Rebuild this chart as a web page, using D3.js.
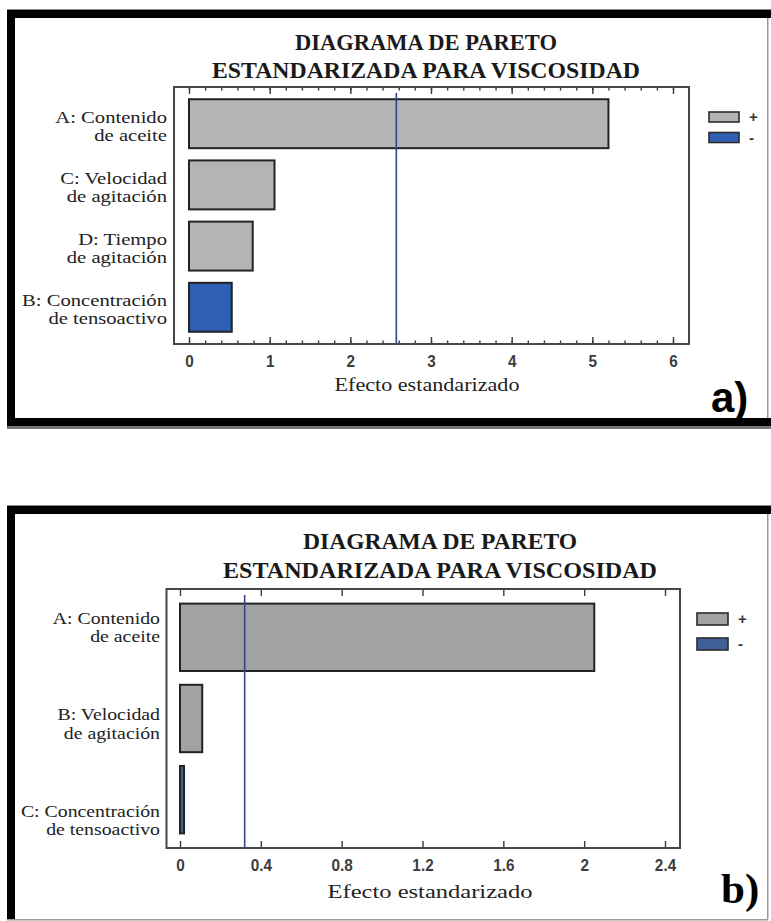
<!DOCTYPE html>
<html>
<head>
<meta charset="utf-8">
<script src="https://cdn.jsdelivr.net/npm/d3@7/dist/d3.min.js"></script>
<style>
  html, body { margin: 0; padding: 0; background: #fff; }
  svg { display: block; }
</style>
</head>
<body>
<div id="chart"></div>
<script>
/*** data ***/
const titleLines = ["DIAGRAMA DE PARETO", "ESTANDARIZADA PARA VISCOSIDAD"];
const axisTitle = "Efecto estandarizado";
const legendSigns = ["+", "-"];

// panel a
const labelsA = [["A: Contenido", "de aceite"], ["C: Velocidad", "de agitación"],
                 ["D: Tiempo", "de agitación"], ["B: Concentración", "de tensoactivo"]];
const valuesA = [5.2, 1.06, 0.79, 0.53];
const signsA = ["+", "+", "+", "-"];
const refA = 2.57;
const ticksA = [0, 1, 2, 3, 4, 5, 6];

// panel b
const labelsB = [["A: Contenido", "de aceite"], ["B: Velocidad", "de agitación"],
                 ["C: Concentración", "de tensoactivo"]];
const valuesB = [2.05, 0.11, 0.02];
const signsB = ["+", "+", "-"];
const refB = 0.32;
const ticksB = [0, 0.4, 0.8, 1.2, 1.6, 2, 2.4];

const W = 771, H = 921;
const svg = d3.select("#chart").append("svg")
    .attr("width", W).attr("height", H);
svg.append("rect").attr("width", W).attr("height", H).attr("fill", "#fff");

// squeeze / stretch a text to a width
function fitText(sel, k) {
    sel.each(function () {
        const w = this.getComputedTextLength();
        this.setAttribute("textLength", w * k);
        this.setAttribute("lengthAdjust", "spacingAndGlyphs");
    });
}

/*** frames ***/
function frame(top, bottom, thickBottom) {
    const f = svg.append("g");
    f.append("rect").attr("x", 7).attr("y", top - 1).attr("width", W).attr("height", 1).attr("fill", "#888");
    f.append("rect").attr("x", 7).attr("y", top).attr("width", W).attr("height", 8).attr("fill", "#000");
    f.append("rect").attr("x", 7).attr("y", top).attr("width", 8).attr("height", bottom - top).attr("fill", "#000");
    f.append("rect").attr("x", 767).attr("y", top + 8).attr("width", 1.5).attr("height", bottom - top - 8).attr("fill", "#999");
    if (thickBottom) {
        f.append("rect").attr("x", 7).attr("y", bottom - 8).attr("width", W).attr("height", 8).attr("fill", "#000");
        f.append("rect").attr("x", 7).attr("y", bottom).attr("width", W).attr("height", 3).attr("fill", "#777");
    } else {
        f.append("rect").attr("x", 7).attr("y", bottom).attr("width", 761).attr("height", 1.5).attr("fill", "#999");
    }
}
frame(10, 426, true);
frame(506, 919, false);

/*** pareto panel ***/
function drawPareto(o) {
    const g = svg.append("g");
    const box = o.box;
    const cats = o.labels.map(d => d[0]);

    const x = d3.scaleLinear().domain(o.domain).range([box.x0 + o.padL, box.x1 - o.padR]);
    const y = d3.scaleBand().domain(cats).range([box.y0, box.y1])
        .paddingInner(o.padIn).paddingOuter(o.padOut);
    const yLab = d3.scalePoint().domain(cats).range(o.labelRange);
    const color = d3.scaleOrdinal().domain(legendSigns).range(o.colors);

    // title
    g.selectAll(".title").data(titleLines).enter().append("text")
        .attr("class", "title")
        .attr("x", o.titleX).attr("y", (d, i) => o.titleY[i])
        .attr("text-anchor", "middle")
        .style("font-family", "'Liberation Serif', serif")
        .style("font-weight", "bold").style("font-size", "24px")
        .attr("fill", "#1a1a1a")
        .text(d => d)
        .attr("textLength", (d, i) => o.titleW[i])
        .attr("lengthAdjust", "spacingAndGlyphs");

    // bars
    g.selectAll(".bar").data(o.values).enter().append("rect")
        .attr("class", "bar")
        .attr("x", x(0))
        .attr("y", (d, i) => y(cats[i]))
        .attr("width", d => x(d) - x(0))
        .attr("height", y.bandwidth())
        .attr("fill", (d, i) => color(o.signs[i]))
        .attr("stroke", "#232323").attr("stroke-width", 2);

    // critical value line
    g.append("line")
        .attr("x1", x(o.ref)).attr("x2", x(o.ref))
        .attr("y1", box.y0 + 6).attr("y2", box.y1 - 1)
        .attr("stroke", "#34438a").attr("stroke-width", 1.6);

    // axes: ticks point inward on top and bottom
    const bottom = g.append("g").attr("transform", "translate(0," + box.y1 + ")")
        .call(d3.axisBottom(x).tickValues(o.ticks).tickSize(-7).tickPadding(11)
            .tickFormat(d3.format("~g")));
    g.append("g").attr("transform", "translate(0," + box.y0 + ")")
        .call(d3.axisTop(x).tickValues(o.ticks).tickSize(-7).tickFormat(""));
    if (o.minor) {
        g.append("g").attr("transform", "translate(0," + box.y1 + ")")
            .call(d3.axisBottom(x).tickValues(o.minor).tickSize(-3.5).tickFormat(""));
        g.append("g").attr("transform", "translate(0," + box.y0 + ")")
            .call(d3.axisTop(x).tickValues(o.minor).tickSize(-3.5).tickFormat(""));
    }
    g.selectAll(".domain").remove();
    g.selectAll(".tick line").attr("stroke", "#3a3a3a").attr("stroke-width", 1.4);
    bottom.selectAll(".tick text")
        .style("font-family", "'Liberation Sans', Arial, sans-serif")
        .style("font-weight", "bold").style("font-size", "17px")
        .attr("fill", "#3d3d3d")
        .call(fitText, 0.9);

    // plot box
    g.append("rect")
        .attr("x", box.x0).attr("y", box.y0)
        .attr("width", box.x1 - box.x0).attr("height", box.y1 - box.y0)
        .attr("fill", "none").attr("stroke", "#474747").attr("stroke-width", 2);

    // category labels (two lines)
    const lab = g.selectAll(".lab").data(o.labels).enter().append("g")
        .attr("class", "lab")
        .style("font-family", "'Liberation Serif', serif")
        .style("font-size", "16.5px")
        .attr("fill", "#222");
    lab.append("text")
        .attr("text-anchor", "end")
        .attr("x", o.labelX).attr("y", d => yLab(d[0]) - 2.5)
        .text(d => d[0]);
    lab.append("text")
        .attr("text-anchor", "end")
        .attr("x", o.labelX).attr("y", d => yLab(d[0]) + 16)
        .text(d => d[1]);
    lab.selectAll("text").call(fitText, o.labelK);

    // axis title
    g.append("text")
        .attr("x", o.axisX).attr("y", o.axisY)
        .attr("text-anchor", "middle")
        .style("font-family", "'Liberation Serif', serif")
        .style("font-size", "19px")
        .attr("fill", "#222")
        .text(axisTitle)
        .attr("textLength", o.axisW).attr("lengthAdjust", "spacingAndGlyphs");

    // legend
    const leg = g.selectAll(".leg").data(legendSigns).enter().append("g")
        .attr("class", "leg")
        .attr("transform", (d, i) => "translate(" + o.legX + "," + (o.legY + i * o.legStep) + ")");
    leg.append("rect")
        .attr("width", o.legW).attr("height", o.legH)
        .attr("fill", d => color(d))
        .attr("stroke", "#2b2b2b").attr("stroke-width", 1.6);
    leg.append("text")
        .attr("x", o.legW + 10).attr("y", o.legH / 2 + 5)
        .style("font-family", "'Liberation Sans', Arial, sans-serif")
        .style("font-weight", "bold").style("font-size", "15px")
        .attr("fill", "#333")
        .text(d => d);

    // panel letter
    g.append("text")
        .attr("x", o.letterX).attr("y", o.letterY)
        .style("font-family", o.letterFont)
        .style("font-weight", "bold").style("font-size", o.letterSize + "px")
        .attr("fill", "#000")
        .text(o.letter);
}

drawPareto({
    labels: labelsA, values: valuesA, signs: signsA, ref: refA,
    ticks: ticksA, minor: d3.range(0, 6.001, 0.2), domain: [0, 6],
    box: {x0: 174, x1: 689, y0: 87, y1: 344}, padL: 15, padR: 16,
    padIn: 0.2, padOut: 0.2,
    labelRange: [125, 308], labelX: 167, labelK: 1.25,
    colors: ["#b4b4b4", "#2f5fb3"],
    titleX: 426, titleY: [50, 78], titleW: [262, 428],
    axisX: 427, axisY: 391, axisW: 185,
    legX: 709, legY: 112, legW: 30, legH: 10, legStep: 20.5,
    letter: "a)", letterX: 711, letterY: 412, letterSize: 42,
    letterFont: "'Liberation Sans', Arial, sans-serif"
});

drawPareto({
    labels: labelsB, values: valuesB, signs: signsB, ref: refB,
    ticks: ticksB, minor: null, domain: [0, 2.4],
    box: {x0: 166.5, x1: 680, y0: 589, y1: 848}, padL: 13.5, padR: 15,
    padIn: 0.17, padOut: 0.18,
    labelRange: [626, 819], labelX: 160, labelK: 1.2,
    colors: ["#a2a2a2", "#3f5f96"],
    titleX: 440, titleY: [549, 578], titleW: [274, 434],
    axisX: 430, axisY: 898, axisW: 205,
    legX: 697, legY: 613, legW: 31, legH: 12, legStep: 25,
    letter: "b)", letterX: 721, letterY: 903, letterSize: 43,
    letterFont: "'Liberation Serif', serif"
});
</script>
</body>
</html>
